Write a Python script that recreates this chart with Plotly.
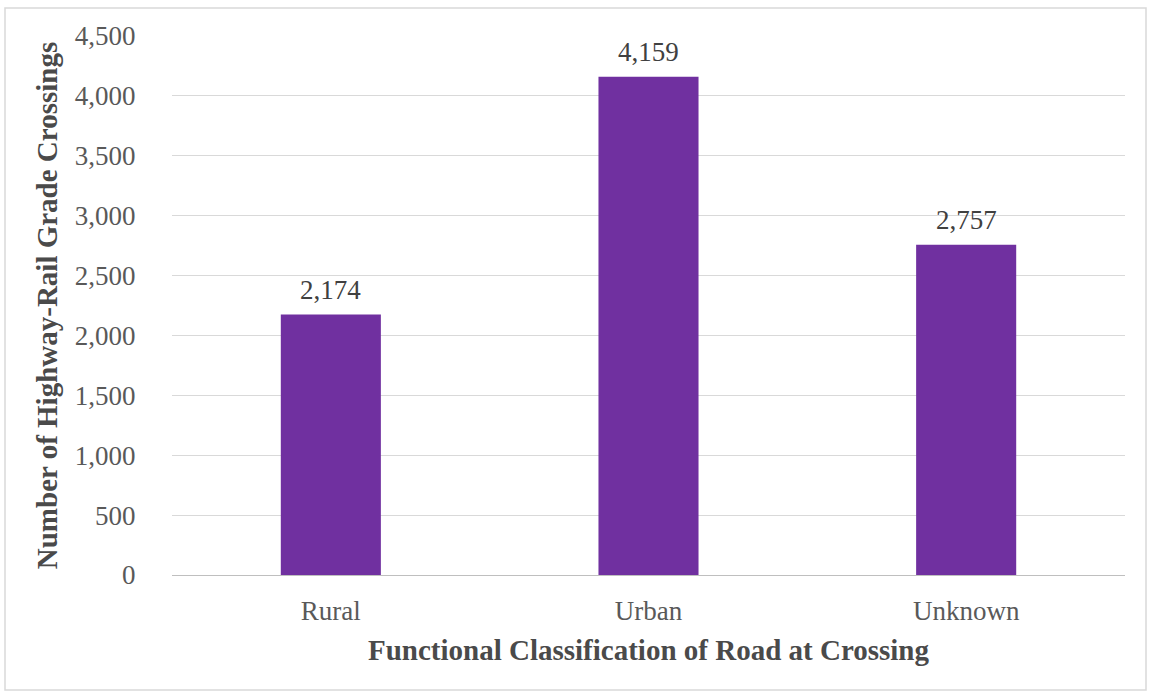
import plotly.graph_objects as go

categories = ["Rural", "Urban", "Unknown"]
crossings = [2174, 4159, 2757]
y_ticks = [0, 500, 1000, 1500, 2000, 2500, 3000, 3500, 4000, 4500]
y_tick_text = [f"{v:,}" for v in y_ticks]

W, H = 1151, 692
ML, MR, MT, MB = 172, 26, 36, 117
FONT = "Liberation Serif, Times New Roman, serif"
BAR = "#7030A0"
TXT = "#595959"

fig = go.Figure(
    go.Bar(
        x=categories,
        y=crossings,
        marker=dict(color=BAR, line=dict(width=0)),
        hoverinfo="x+y",
    )
)

# value labels above each bar
for c, v in zip(categories, crossings):
    fig.add_annotation(
        x=c, y=v, text=f"{v:,}", showarrow=False,
        yanchor="bottom", yshift=8,
        font=dict(family=FONT, size=27, color="#404040"),
    )

# light frame around the whole chart
pw = W - ML - MR
ph = H - MT - MB
fig.add_shape(
    type="rect", xref="paper", yref="paper",
    x0=(5 - ML) / pw, x1=(1146 - ML) / pw,
    y0=(H - MB - 690) / ph, y1=(H - MB - 8) / ph,
    line=dict(color="#d9d9d9", width=1.5), fillcolor="rgba(0,0,0,0)",
    layer="below",
)

fig.update_layout(
    width=W, height=H,
    margin=dict(l=ML, r=MR, t=MT, b=MB),
    paper_bgcolor="white", plot_bgcolor="white",
    bargap=0.685,
    showlegend=False,
    font=dict(family=FONT, color=TXT),
    xaxis=dict(
        showgrid=False, showline=False, zeroline=False,
        tickfont=dict(family=FONT, size=27, color=TXT),
        ticks="outside", ticklen=12, tickcolor="rgba(0,0,0,0)",
        title=dict(
            text="<b>Functional Classification of Road at Crossing</b>",
            font=dict(family=FONT, size=29, color="#4a4a4a"), standoff=14,
        ),
    ),
    yaxis=dict(
        range=[0, 4500],
        tickvals=y_ticks, ticktext=y_tick_text,
        showgrid=True, gridcolor="#d9d9d9", gridwidth=1.2,
        zeroline=True, zerolinecolor="#bfbfbf", zerolinewidth=1.2,
        showline=False,
        tickfont=dict(family=FONT, size=27, color=TXT),
        ticks="outside", ticklen=30, tickcolor="rgba(0,0,0,0)",
        title=dict(
            text="<b>Number of Highway-Rail Grade Crossings</b>",
            font=dict(family=FONT, size=29, color="#4a4a4a"), standoff=8,
        ),
    ),
)

fig.write_html("out.html")
